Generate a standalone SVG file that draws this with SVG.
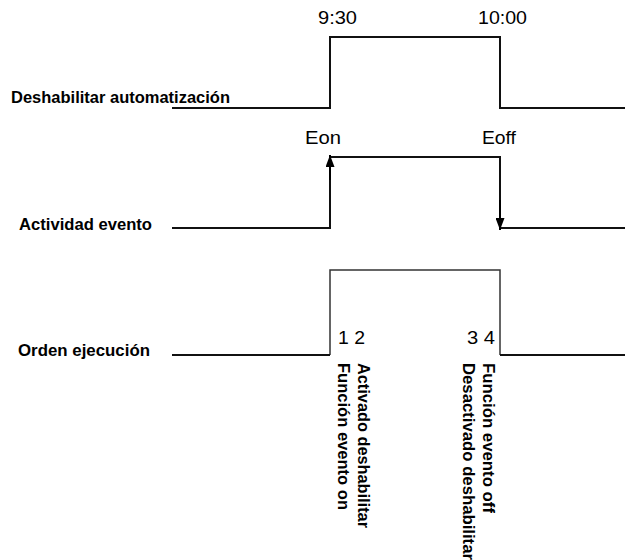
<svg xmlns="http://www.w3.org/2000/svg" width="625" height="560" viewBox="0 0 625 560">
<style>
.lbl{font-family:"Liberation Sans",Arial,sans-serif;font-weight:bold;font-size:16.5px;fill:#000}
.txt{font-family:"Liberation Sans",Arial,sans-serif;font-size:17.5px;fill:#000}
.sig{fill:none;stroke:#111;stroke-width:2;stroke-linejoin:miter}
.thin{fill:none;stroke:#333;stroke-width:1.5}
</style>
<defs>
<marker id="ah" viewBox="0 0 10 10" refX="10" refY="5" markerWidth="12" markerHeight="9" markerUnits="userSpaceOnUse" orient="auto" preserveAspectRatio="none">
<path d="M0,0 L10,5 L0,10 Z" fill="#000"/>
</marker>
</defs>
<g id="labels">
<text class="lbl" x="11" y="103" textLength="219" lengthAdjust="spacingAndGlyphs">Deshabilitar automatización</text>
<text class="lbl" x="19" y="230" textLength="133" lengthAdjust="spacingAndGlyphs">Actividad evento</text>
<text class="lbl" x="18" y="356" textLength="132" lengthAdjust="spacingAndGlyphs">Orden ejecución</text>
</g>
<g id="connectors">
<path id="sig-deshab" class="sig" d="M172,108 H330 V37 H500 V108 H625"/>
<path class="sig" d="M172,228 H330 V157 H500 V228 H625" stroke="#000"/>
<line x1="330" y1="180" x2="330" y2="155" stroke="#000" stroke-width="2" marker-end="url(#ah)"/>
<line x1="500" y1="200" x2="500" y2="230" stroke="#000" stroke-width="2" marker-end="url(#ah)"/>
<path class="thin" d="M330,355 V270 H500 V355"/>
<path class="sig" d="M172,355 H330 M500,355 H625" stroke="#000"/>
</g>
<g id="time-labels">
<text class="txt" x="318" y="24" textLength="39" lengthAdjust="spacingAndGlyphs">9:30</text>
<text class="txt" x="478" y="24" textLength="49" lengthAdjust="spacingAndGlyphs">10:00</text>
<text class="txt" x="305" y="144" textLength="36" lengthAdjust="spacingAndGlyphs">Eon</text>
<text class="txt" x="482" y="144" textLength="34" lengthAdjust="spacingAndGlyphs">Eoff</text>
<text class="txt" x="338" y="344" textLength="27" lengthAdjust="spacingAndGlyphs">1 2</text>
<text class="txt" x="467" y="344" textLength="28" lengthAdjust="spacingAndGlyphs">3 4</text>
</g>
<g id="steps">
<text class="lbl" transform="translate(358,363) rotate(90)" textLength="165" lengthAdjust="spacingAndGlyphs">Activado deshabilitar</text>
<text class="lbl" transform="translate(338,363) rotate(90)" textLength="147" lengthAdjust="spacingAndGlyphs">Función evento on</text>
<text class="lbl" transform="translate(483,363) rotate(90)" textLength="150" lengthAdjust="spacingAndGlyphs">Función evento off</text>
<text class="lbl" transform="translate(463,363) rotate(90)" textLength="197" lengthAdjust="spacingAndGlyphs">Desactivado deshabilitar</text>
</g>
</svg>
